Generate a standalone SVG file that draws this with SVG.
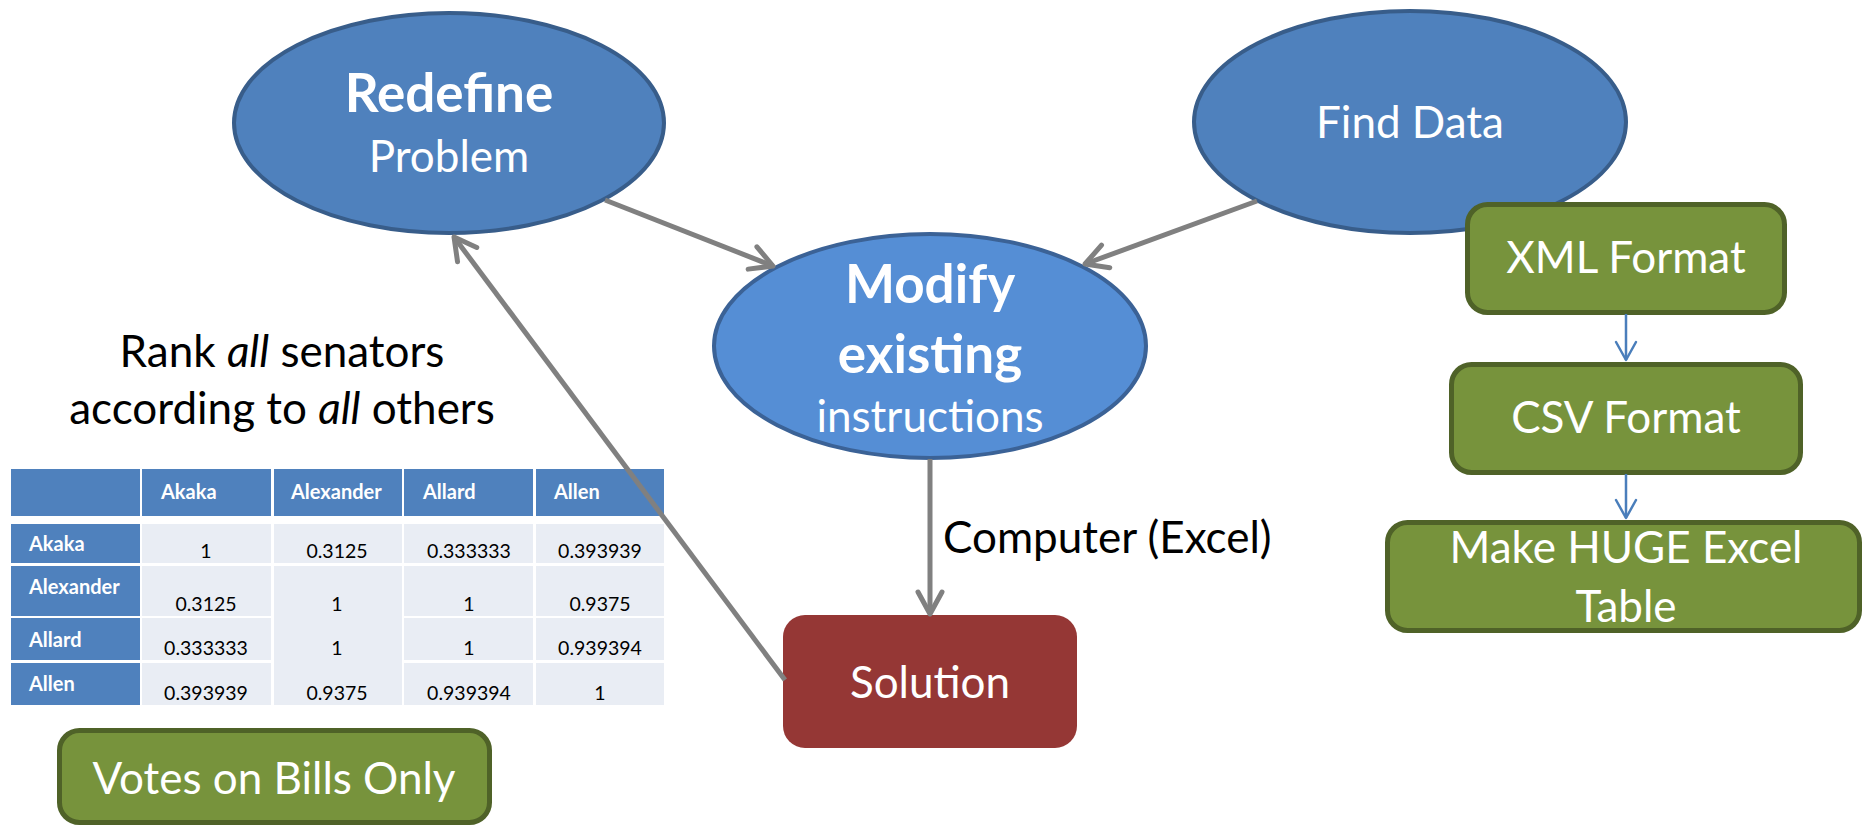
<svg xmlns="http://www.w3.org/2000/svg" width="1864" height="826" viewBox="0 0 1864 826">
<defs>
<style>
.t{font-family:Lato,"Open Sans","Liberation Sans",sans-serif;fill:#fff;text-anchor:middle}
.r{font-size:44px}
.b{font-size:53px;font-weight:bold}
.k{font-family:Lato,"Open Sans","Liberation Sans",sans-serif;fill:#000;font-size:44px}
.ell{fill:#4F81BD;stroke:#385D8A;stroke-width:4}
.grn{fill:#77933C;stroke:#4F6228;stroke-width:5}
.gl{fill:none;stroke:#808080;stroke-width:5}
.bl{fill:none;stroke:#4A7EBB;stroke-width:2.5}
.hc{fill:#4F81BD}
.dc{fill:#E9EDF4}
.th{font-family:Lato,"Open Sans","Liberation Sans",sans-serif;fill:#fff;font-size:20px;font-weight:bold}
.td{font-family:Lato,"Open Sans","Liberation Sans",sans-serif;fill:#000;font-size:19.5px;text-anchor:middle}
</style>
<marker id="ag" markerUnits="userSpaceOnUse" viewBox="-30 -16 34 32" markerWidth="34" markerHeight="32" refX="0" refY="0" orient="auto">
<path d="M-22,-12 L0,0 L-22,12" fill="none" stroke="#808080" stroke-width="5" stroke-linecap="round" stroke-linejoin="round"/>
</marker>
<marker id="ab" markerUnits="userSpaceOnUse" viewBox="-24 -14 28 28" markerWidth="28" markerHeight="28" refX="0" refY="0" orient="auto">
<path d="M-18,-10 L0,0 L-18,10" fill="none" stroke="#4A7EBB" stroke-width="2.5" stroke-linecap="round" stroke-linejoin="round"/>
</marker>
</defs>
<rect width="1864" height="826" fill="#fff"/>

<g id="redefine">
<ellipse class="ell" cx="449" cy="123" rx="215" ry="110"/>
<text class="t b" x="449" y="112">Redefine</text>
<text class="t r" x="449" y="172">Problem</text>
</g>

<g id="find-data">
<ellipse class="ell" cx="1410" cy="122" rx="216" ry="111"/>
<text class="t r" x="1410" y="138">Find Data</text>
</g>

<g id="modify">
<ellipse cx="930" cy="346" rx="216" ry="112" fill="#558ED5" stroke="#3B6296" stroke-width="4"/>
<text class="t b" x="930" y="303">Modify</text>
<text class="t b" x="930" y="373">existing</text>
<text class="t r" x="930" y="432">instructions</text>
</g>

<g id="solution">
<rect x="783" y="615" width="294" height="133" rx="22" fill="#953735"/>
<text class="t r" x="930" y="698">Solution</text>
</g>

<g id="xml">
<rect class="grn" x="1467.5" y="204.5" width="317" height="108" rx="20"/>
<text class="t r" x="1626" y="273">XML Format</text>
</g>

<g id="csv">
<rect class="grn" x="1451.5" y="364.5" width="349" height="108" rx="20"/>
<text class="t r" x="1626" y="433">CSV Format</text>
</g>

<g id="huge">
<rect class="grn" x="1387.5" y="522.5" width="472" height="108" rx="20"/>
<text class="t r" x="1626" y="563">Make HUGE Excel</text>
<text class="t r" x="1626" y="622">Table</text>
</g>

<g id="rank-text">
<text class="k" x="282" y="367" text-anchor="middle">Rank <tspan font-style="italic">all</tspan> senators</text>
<text class="k" x="282" y="424" text-anchor="middle">according to <tspan font-style="italic">all</tspan> others</text>
</g>

<g id="table">
<rect class="hc" x="11" y="469" width="129" height="47"/>
<rect class="hc" x="142" y="469" width="129" height="47"/>
<rect class="hc" x="274" y="469" width="128" height="47"/>
<rect class="hc" x="404" y="469" width="129" height="47"/>
<rect class="hc" x="536" y="469" width="128" height="47"/>
<text class="th" x="161" y="499">Akaka</text>
<text class="th" x="291" y="499">Alexander</text>
<text class="th" x="423" y="499">Allard</text>
<text class="th" x="554" y="499">Allen</text>

<rect class="hc" x="11" y="524" width="129" height="39"/>
<rect class="hc" x="11" y="566" width="129" height="50"/>
<rect class="hc" x="11" y="618" width="129" height="42"/>
<rect class="hc" x="11" y="663" width="129" height="42"/>
<text class="th" x="29" y="551">Akaka</text>
<text class="th" x="29" y="594">Alexander</text>
<text class="th" x="29" y="647">Allard</text>
<text class="th" x="29" y="691">Allen</text>

<rect class="dc" x="142" y="524" width="129" height="39"/>
<rect class="dc" x="274" y="524" width="128" height="39"/>
<rect class="dc" x="404" y="524" width="129" height="39"/>
<rect class="dc" x="536" y="524" width="128" height="39"/>
<rect class="dc" x="142" y="566" width="129" height="50"/>
<rect class="dc" x="274" y="566" width="128" height="139"/>
<rect class="dc" x="404" y="566" width="129" height="50"/>
<rect class="dc" x="536" y="566" width="128" height="50"/>
<rect class="dc" x="142" y="618" width="129" height="42"/>
<rect class="dc" x="404" y="618" width="129" height="42"/>
<rect class="dc" x="536" y="618" width="128" height="42"/>
<rect class="dc" x="142" y="663" width="129" height="42"/>
<rect class="dc" x="404" y="663" width="129" height="42"/>
<rect class="dc" x="536" y="663" width="128" height="42"/>

<text class="td" x="206" y="558">1</text>
<text class="td" x="337" y="558">0.3125</text>
<text class="td" x="469" y="558">0.333333</text>
<text class="td" x="600" y="558">0.393939</text>
<text class="td" x="206" y="611">0.3125</text>
<text class="td" x="337" y="611">1</text>
<text class="td" x="469" y="611">1</text>
<text class="td" x="600" y="611">0.9375</text>
<text class="td" x="206" y="655">0.333333</text>
<text class="td" x="337" y="655">1</text>
<text class="td" x="469" y="655">1</text>
<text class="td" x="600" y="655">0.939394</text>
<text class="td" x="206" y="700">0.393939</text>
<text class="td" x="337" y="700">0.9375</text>
<text class="td" x="469" y="700">0.939394</text>
<text class="td" x="600" y="700">1</text>
</g>

<g id="votes">
<rect class="grn" x="59.5" y="730.5" width="430" height="92" rx="20"/>
<text class="t r" x="274" y="794">Votes on Bills Only</text>
</g>

<g id="connectors">
<line class="gl" x1="605" y1="200" x2="773" y2="266" marker-end="url(#ag)"/>
<line class="gl" x1="1257" y1="201" x2="1085" y2="264" marker-end="url(#ag)"/>
<line class="gl" x1="930" y1="459" x2="930" y2="614" marker-end="url(#ag)"/>
<line class="gl" x1="785" y1="680" x2="454" y2="237" marker-end="url(#ag)"/>
<line class="bl" x1="1626" y1="314" x2="1626" y2="360" marker-end="url(#ab)"/>
<line class="bl" x1="1626" y1="474" x2="1626" y2="518" marker-end="url(#ab)"/>
<text class="k" x="943" y="553">Computer (Excel)</text>
</g>
</svg>
